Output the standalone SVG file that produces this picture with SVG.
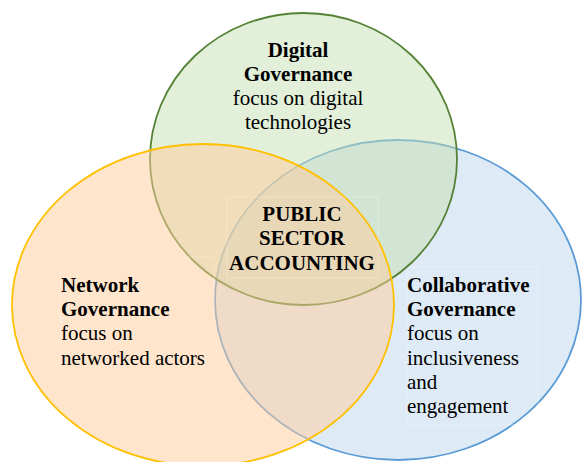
<svg xmlns="http://www.w3.org/2000/svg" width="582" height="462" viewBox="0 0 582 462">
  <style>
    .set { fill-opacity: 0.5; stroke-width: 1.8; }
    .box { fill: none; stroke: #ffffff; stroke-opacity: 0.28; stroke-width: 1; }
    text { font-family: "Liberation Serif", "Times New Roman", serif; font-size: 21px; fill: #000000; }
    .b { font-weight: bold; }
  </style>
  <rect x="0" y="0" width="582" height="462" fill="#ffffff"/>

  <!-- Collaborative Governance (bottom layer) -->
  <g id="collaborative">
    <ellipse class="set" cx="398" cy="300" rx="183" ry="160" fill="#bdd7ee" stroke="#5b9bd5"/>
    <rect class="box" x="407" y="267" width="131" height="158"/>
    <text x="407" y="292" class="b">Collaborative</text>
    <text x="407" y="316" class="b">Governance</text>
    <text x="407" y="340">focus on</text>
    <text x="407" y="365">inclusiveness</text>
    <text x="407" y="389">and</text>
    <text x="407" y="413">engagement</text>
  </g>

  <!-- Digital Governance -->
  <g id="digital">
    <ellipse class="set" cx="303.5" cy="159" rx="153.5" ry="146" fill="#c5e0b4" stroke="#548235"/>
    <text x="298" y="57" text-anchor="middle" class="b">Digital</text>
    <text x="298" y="81" text-anchor="middle" class="b">Governance</text>
    <text x="298" y="105" text-anchor="middle">focus on digital</text>
    <text x="298" y="129" text-anchor="middle">technologies</text>
  </g>

  <!-- Network Governance (top layer) -->
  <g id="network">
    <ellipse class="set" cx="203" cy="305" rx="191" ry="161" fill="#ffcc99" stroke="#ffc000"/>
    <rect class="box" x="61" y="257" width="153" height="128"/>
    <text x="61" y="292" class="b">Network</text>
    <text x="61" y="316" class="b">Governance</text>
    <text x="61" y="340">focus on</text>
    <text x="61" y="365">networked actors</text>
  </g>

  <!-- Shared centre -->
  <g id="public-sector-accounting">
    <rect class="box" x="227" y="197" width="151" height="81"/>
    <text x="302" y="221" text-anchor="middle" class="b">PUBLIC</text>
    <text x="302" y="245" text-anchor="middle" class="b">SECTOR</text>
    <text x="302" y="270" text-anchor="middle" class="b">ACCOUNTING</text>
  </g>
</svg>
